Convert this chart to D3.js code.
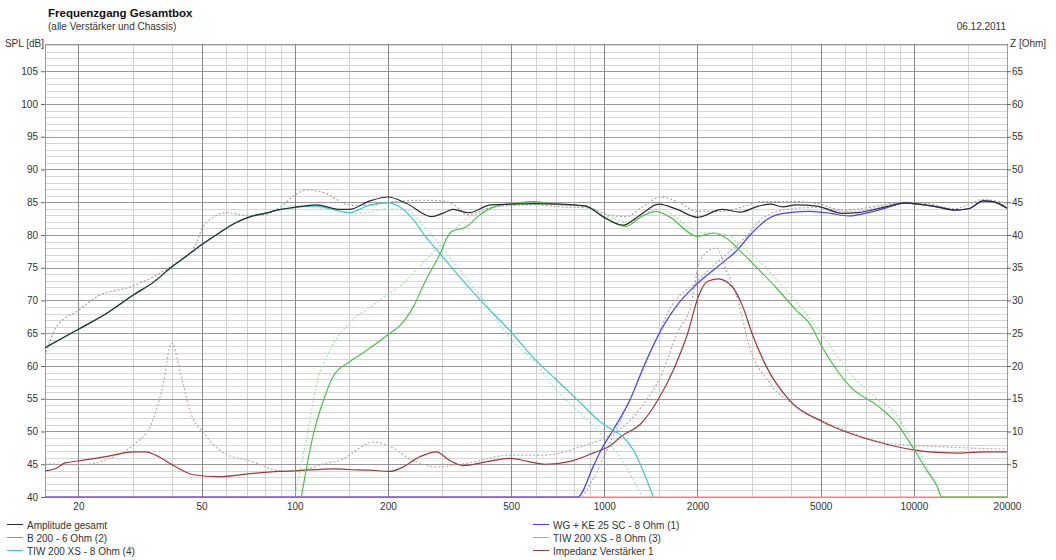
<!DOCTYPE html>
<html>
<head>
<meta charset="utf-8">
<script src="https://cdn.jsdelivr.net/npm/d3@7"></script>
<style>
  body { margin: 0; background: #fff; }
  text { font-family: "Liberation Sans", Arial, sans-serif; }
</style>
</head>
<body>
<div id="graph"></div>
<script>
// ---- data ----
var freqTicks = [20, 50, 100, 200, 500, 1000, 2000, 5000, 10000, 20000];
var splTicks = [40, 45, 50, 55, 60, 65, 70, 75, 80, 85, 90, 95, 100, 105];
var zTicks = [5, 10, 15, 20, 25, 30, 35, 40, 45, 50, 55, 60, 65];

// Amplitude gesamt (dB)
var totalFreq = [15.6, 20, 25, 30, 35, 40, 45, 50, 57, 64, 72, 80, 90, 100, 117, 140, 150, 175, 200, 230, 277, 300, 325, 365, 430, 500, 600, 720, 800, 875, 990, 1150, 1310, 1500, 1720, 2000, 2400, 2750, 3150, 3440, 3770, 4170, 4860, 5900, 6600, 8100, 9500, 10000, 11600, 13500, 15000, 16800, 18000, 20000];
var totalSpl = [62.8, 65.6, 68.2, 70.8, 72.8, 75.1, 76.9, 78.5, 80.3, 81.8, 82.8, 83.3, 83.9, 84.2, 84.6, 83.9, 83.9, 85.2, 85.8, 84.8, 82.8, 83.3, 83.9, 83.4, 84.6, 84.7, 84.8, 84.7, 84.6, 84.4, 82.8, 81.5, 83.1, 84.7, 83.9, 82.7, 83.9, 83.5, 84.4, 84.7, 84.3, 84.6, 84.4, 83.3, 83.4, 84.3, 84.9, 84.8, 84.4, 83.8, 84.0, 85.2, 85.1, 84.1];

// Amplitude gesamt, dotted overlay (dB)
var totalRefFreq = [15.6, 17, 20, 23, 30, 40, 47.5, 50, 55, 60, 72, 80, 90, 100, 110, 125, 150, 175, 200, 260, 300, 330, 360, 430, 500, 600, 720, 900, 1020, 1180, 1330, 1520, 1720, 2000, 2400, 2800, 3230, 4170, 4860, 5900, 6900, 9000, 11000, 13500, 16800, 20000];
var totalRefSpl = [61.5, 66.0, 68.5, 70.6, 72.2, 75.3, 78.2, 80.8, 82.8, 83.4, 82.9, 83.1, 84.3, 86.1, 86.9, 86.4, 84.6, 84.5, 85.0, 85.3, 85.2, 84.5, 83.1, 84.2, 84.5, 84.6, 84.3, 84.1, 83.1, 82.8, 84.3, 85.8, 85.1, 83.6, 83.6, 84.3, 85.1, 85.1, 84.8, 83.8, 84.1, 84.9, 84.8, 84.0, 85.4, 84.8];

// B 200 - 6 Ohm (2)
var wooferFreq = [105, 115, 125, 133, 151, 171, 203, 219, 242, 265, 292, 320, 360, 390, 440, 510, 590, 690, 870, 990, 1170, 1330, 1470, 1620, 2000, 2250, 2480, 2800, 3080, 3570, 4170, 4600, 5100, 6240, 7700, 8780, 9980, 11000, 11900, 12300, 20000];
var wooferSpl = [40, 49.7, 55.3, 58.4, 60.7, 62.4, 65.0, 66.2, 69.1, 73.1, 76.7, 80.5, 81.3, 82.8, 84.3, 84.8, 85.1, 84.7, 84.4, 82.8, 81.3, 82.9, 83.6, 82.8, 79.8, 80.3, 79.5, 77.2, 75.2, 72.1, 68.5, 66.5, 62.6, 56.8, 53.8, 51.3, 47.4, 44.1, 41.6, 40, 40];
var wooferRefFreq = [100, 109, 118, 130, 148, 185, 230, 265, 292, 320, 355, 420, 500, 700, 900, 1000, 1200, 1500, 2000, 2500, 2800, 3200, 3800, 4400, 5100, 6200, 7600, 8600, 9500, 10500, 11500, 12300];
var wooferRefSpl = [40, 48.7, 57.4, 62.5, 66.2, 69.8, 73.1, 76.2, 78.2, 80.3, 82.3, 83.8, 84.8, 84.8, 84.0, 83.0, 82.0, 84.0, 80.5, 80.0, 78.0, 75.8, 72.0, 68.5, 64.5, 59.0, 55.0, 53.0, 50.0, 46.5, 43.0, 40];

// TIW 200 XS - 8 Ohm (4)
var midFreq = [15.6, 20, 25, 30, 35, 40, 45, 50, 57, 64, 72, 80, 90, 100, 117, 130, 150, 175, 200, 218, 240, 265, 298, 341, 397, 497, 600, 700, 840, 970, 1040, 1150, 1240, 1440];
var midSpl = [62.8, 65.6, 68.2, 70.8, 72.8, 75.1, 76.9, 78.5, 80.3, 81.8, 82.8, 83.3, 83.9, 84.2, 84.4, 84.0, 83.4, 84.6, 84.9, 84.3, 82.5, 79.7, 76.9, 73.6, 70.1, 65.3, 60.9, 57.9, 54.3, 51.5, 50.5, 49.2, 47.2, 40];
var midRefFreq = [90, 100, 125, 162, 200, 230, 265, 300, 350, 400, 500, 600, 700, 850, 1000, 1100, 1330];
var midRefSpl = [84.3, 84.5, 84.0, 83.3, 84.0, 83.8, 81.0, 78.0, 74.0, 70.5, 64.0, 60.5, 56.3, 52.5, 49.0, 46.7, 40];

// WG + KE 25 SC - 8 Ohm (1)
var tweeterFreq = [15.6, 820, 920, 970, 1070, 1210, 1340, 1470, 1560, 1720, 2000, 2400, 2650, 3000, 3340, 3780, 4600, 5400, 6140, 6960, 8100, 9400, 10000, 12500, 13500, 15000, 16800, 18000, 20000];
var tweeterSpl = [40, 40, 44.6, 46.9, 50.3, 54.8, 59.9, 64.0, 66.3, 69.3, 72.6, 75.7, 77.4, 80.3, 82.3, 83.3, 83.6, 83.3, 82.9, 83.3, 84.1, 84.9, 84.8, 84.1, 83.8, 84.0, 85.2, 85.1, 84.1];
var tweeterRefFreq = [850, 950, 1050, 1200, 1350, 1500, 1620, 2000, 2400, 2800, 3300, 4170, 5000, 6000, 7000, 8100, 9400, 10000];
var tweeterRefSpl = [40, 44.0, 48.5, 54.5, 60.0, 65.0, 68.5, 73.0, 76.5, 79.2, 82.8, 84.1, 84.2, 83.6, 83.8, 84.5, 85.0, 84.9];

// TIW 200 XS - 8 Ohm (3) - stays below the bottom of the scale
var lowFreq = [15.6, 20000];
var lowSpl = [40, 40];

// Impedanz Verstärker 1 (Ohm)
var impFreq = [15.6, 17, 18.1, 20, 24.8, 30, 33, 36.5, 40.3, 47, 57, 73, 89, 100, 135, 148, 175, 203, 220, 255, 287, 316, 350, 417, 497, 570, 645, 770, 920, 1050, 1130, 1320, 1490, 1690, 1860, 2010, 2150, 2330, 2590, 2800, 3000, 3340, 3960, 5070, 6240, 7650, 9980, 11900, 14000, 16800, 20000];
var impOhm = [4.0, 4.4, 5.2, 5.5, 6.2, 6.9, 6.9, 6.1, 4.9, 3.4, 3.1, 3.6, 3.9, 4.0, 4.3, 4.2, 4.1, 3.9, 4.4, 6.2, 6.9, 5.6, 4.8, 5.4, 5.9, 5.4, 5.0, 5.4, 6.7, 7.9, 9.2, 11.3, 14.8, 19.9, 25.0, 30.5, 32.9, 33.3, 32.1, 29.1, 25.0, 19.9, 14.8, 11.5, 9.7, 8.4, 7.2, 6.8, 6.7, 6.9, 6.9];
var impRefFreq = [15.6, 20, 25, 30, 34.5, 37.5, 40, 43, 46, 51, 59, 73, 89, 100, 125, 140, 180, 203, 240, 287, 355, 497, 645, 840, 1050, 1200, 1320, 1520, 1720, 1900, 2040, 2300, 2500, 2700, 2940, 3420, 4170, 5650, 8300, 11900, 20000];
var impRefOhm = [5.1, 4.9, 5.8, 7.9, 11.3, 17.0, 23.5, 18.4, 13.0, 9.7, 6.7, 5.4, 4.0, 3.9, 5.1, 5.6, 8.4, 7.7, 5.6, 4.6, 5.1, 6.4, 6.4, 7.7, 9.5, 11.5, 13.8, 18.4, 25.0, 29.1, 36.2, 38.0, 34.2, 30.1, 23.0, 17.4, 13.8, 10.7, 8.2, 7.7, 7.3];

var legendNames = ["Amplitude gesamt", "B 200 - 6 Ohm (2)", "TIW 200 XS - 8 Ohm (4)",
                   "WG + KE 25 SC - 8 Ohm (1)", "TIW 200 XS - 8 Ohm (3)", "Impedanz Verstärker 1"];
var legendColors = ["#2b2b2b", "#4cc24c", "#44c8cc", "#4444dd", "#ff8080", "#9b3b3b"];

// ---- layout ----
var plotLeft = 45, plotRight = 1007, plotTop = 43.7, plotBottom = 497;
var small = "10px";

var svg = d3.select("#graph")
            .append("svg")
            .attr("width", 1056)
            .attr("height", 560);

var x = d3.scaleLog().domain([15.6, 20000]).range([plotLeft, plotRight]);
var y = d3.scaleLinear().domain([40, 109.2]).range([plotBottom, plotTop]);
var z = d3.scaleLinear().domain([0, 69.2]).range([plotBottom, plotTop]);

// grid
var minorF = [];
[10, 100, 1000, 10000].forEach(function(dec) {
    [1, 1.5, 2, 3, 4, 5, 6, 7, 8, 9].forEach(function(m) {
        var f = dec * m;
        if (f > 15.6 && f < 20000 && freqTicks.indexOf(f) < 0) minorF.push(f);
    });
});

var grid = svg.append("g");
grid.selectAll(".hmin")
    .data(d3.range(41, 110).filter(function(d) { return d % 5 != 0; }))
    .enter().append("line")
    .attr("x1", plotLeft).attr("x2", plotRight)
    .attr("y1", function(d) { return Math.round(y(d)) + 0.5; })
    .attr("y2", function(d) { return Math.round(y(d)) + 0.5; })
    .attr("stroke", "#d6d6d6");
grid.selectAll(".vmin")
    .data(minorF)
    .enter().append("line")
    .attr("x1", function(d) { return Math.round(x(d)) + 0.5; })
    .attr("x2", function(d) { return Math.round(x(d)) + 0.5; })
    .attr("y1", plotTop).attr("y2", plotBottom)
    .attr("stroke", "#cfcfcf");
grid.selectAll(".hmaj")
    .data(splTicks.filter(function(d) { return d > 40; }))
    .enter().append("line")
    .attr("x1", plotLeft).attr("x2", plotRight)
    .attr("y1", function(d) { return Math.round(y(d)) + 0.5; })
    .attr("y2", function(d) { return Math.round(y(d)) + 0.5; })
    .attr("stroke", "#9a9a9a");
grid.selectAll(".vmaj")
    .data(freqTicks)
    .enter().append("line")
    .attr("x1", function(d) { return Math.round(x(d)) + 0.5; })
    .attr("x2", function(d) { return Math.round(x(d)) + 0.5; })
    .attr("y1", plotTop).attr("y2", plotBottom)
    .attr("stroke", "#8a8a8a");
// frame
grid.append("rect")
    .attr("x", plotLeft + 0.5).attr("y", Math.round(plotTop) + 0.5)
    .attr("width", plotRight - plotLeft).attr("height", plotBottom - Math.round(plotTop))
    .attr("fill", "none").attr("stroke", "#9a9a9a");

// axes
var yAxis = svg.append("g")
    .attr("transform", "translate(" + plotLeft + ",0)")
    .call(d3.axisLeft(y).tickValues(splTicks).tickSize(4).tickPadding(3));
var zAxis = svg.append("g")
    .attr("transform", "translate(" + plotRight + ",0)")
    .call(d3.axisRight(z).tickValues(zTicks).tickSize(4).tickPadding(1));
var xAxis = svg.append("g")
    .attr("transform", "translate(0," + plotBottom + ")")
    .call(d3.axisBottom(x).tickValues(freqTicks).tickFormat(d3.format("d")).tickSize(0).tickPadding(6));

[yAxis, zAxis, xAxis].forEach(function(a) {
    a.select(".domain").remove();
    a.selectAll("line").attr("stroke", "#666");
    a.selectAll("text")
        .style("font-family", "'Liberation Sans', Arial, sans-serif")
        .style("font-size", small)
        .attr("fill", "#333");
});

// curves
svg.append("clipPath").attr("id", "plot")
    .append("rect")
    .attr("x", plotLeft).attr("y", plotTop)
    .attr("width", plotRight - plotLeft).attr("height", plotBottom - plotTop + 1.5);

var lineSpl = d3.line()
    .x(function(d) { return x(d[0]); })
    .y(function(d) { return y(d[1]); })
    .curve(d3.curveMonotoneX);
var lineZ = d3.line()
    .x(function(d) { return x(d[0]); })
    .y(function(d) { return z(d[1]); })
    .curve(d3.curveMonotoneX);

var curves = svg.append("g").attr("clip-path", "url(#plot)");

function draw(freq, vals, gen, color, dotted)
{
    curves.append("path")
        .datum(d3.zip(freq, vals))
        .attr("d", gen)
        .attr("fill", "none")
        .attr("stroke", color)
        .attr("stroke-width", 1.2)
        .attr("stroke-dasharray", dotted ? "2,2" : null);
}

draw(lowFreq, lowSpl, lineSpl, legendColors[4]);
draw(impRefFreq, impRefOhm, lineZ, "#c0a8a8", true);
draw(totalRefFreq, totalRefSpl, lineSpl, "#a4a4a4", true);
draw(wooferRefFreq, wooferRefSpl, lineSpl, "#a8e2a8", true);
draw(midRefFreq, midRefSpl, lineSpl, "#a6dede", true);
draw(tweeterRefFreq, tweeterRefSpl, lineSpl, "#aaaaf0", true);
draw(impFreq, impOhm, lineZ, legendColors[5]);
draw(tweeterFreq, tweeterSpl, lineSpl, legendColors[3]);
draw(midFreq, midSpl, lineSpl, legendColors[2]);
draw(wooferFreq, wooferSpl, lineSpl, legendColors[1]);
draw(totalFreq, totalSpl, lineSpl, legendColors[0]);

// texts
svg.append("text").attr("x", 48).attr("y", 17)
    .style("font-size", "11.5px").style("font-weight", "bold").attr("fill", "#111")
    .text("Frequenzgang Gesamtbox");
svg.append("text").attr("x", 48).attr("y", 30)
    .style("font-size", small).attr("fill", "#333")
    .text("(alle Verstärker und Chassis)");
svg.append("text").attr("x", 1006).attr("y", 30)
    .style("font-size", small).attr("fill", "#333").attr("text-anchor", "end")
    .text("06.12.2011");
svg.append("text").attr("x", 44).attr("y", 47)
    .style("font-size", small).attr("fill", "#333").attr("text-anchor", "end")
    .text("SPL [dB]");
svg.append("text").attr("x", 1010).attr("y", 47)
    .style("font-size", small).attr("fill", "#333")
    .text("Z [Ohm]");

// legend
var legend = svg.append("g");
legendNames.forEach(function(name, i) {
    var col = Math.floor(i / 3), row = i % 3;
    var lx = col == 0 ? 7 : 533;
    var ly = 524.5 + row * 13;
    legend.append("line")
        .attr("x1", lx).attr("x2", lx + 16)
        .attr("y1", ly).attr("y2", ly)
        .attr("stroke", legendColors[i]);
    legend.append("text")
        .attr("x", lx + 20).attr("y", ly + 4)
        .style("font-size", small).attr("fill", "#333")
        .text(name);
});
</script>
</body>
</html>
